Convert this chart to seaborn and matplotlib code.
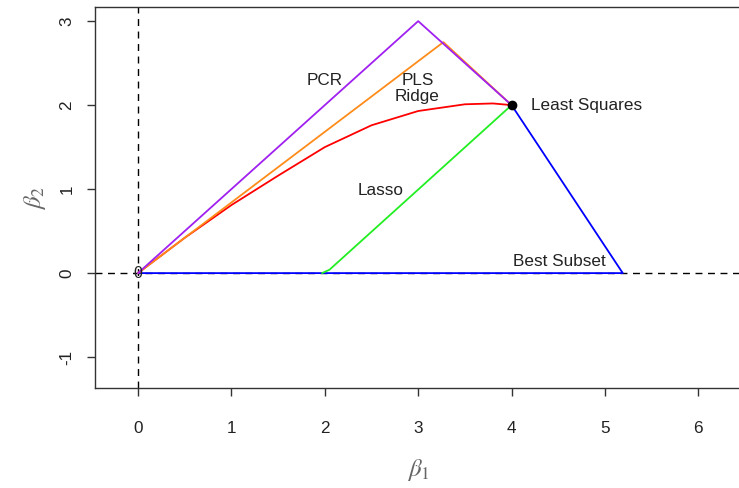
import numpy as np
import pandas as pd
import matplotlib
matplotlib.use('Agg')
import matplotlib.pyplot as plt
import seaborn as sns

sns.set_theme(style='white')
plt.rcParams['font.family'] = ['Liberation Sans', 'DejaVu Sans']
plt.rcParams['mathtext.fontset'] = 'stix'

# coefficient paths
pcr_x = [0, 3, 4]
pcr_y = [0, 3, 2]
pls_x = [0, 3.27, 4]
pls_y = [0, 2.75, 2]
ridge_x = [0, 0.5, 1.0, 1.5, 2.0, 2.5, 3.0, 3.5, 3.8, 4.0]
ridge_y = [0, 0.42, 0.81, 1.16, 1.50, 1.76, 1.93, 2.01, 2.02, 2.0]
lasso_x = [1.97, 2.05, 4]
lasso_y = [0, 0.04, 2]
subset_x = [0, 5.19, 4]
subset_y = [0, 0, 2]
ls_point = (4, 2)

paths = {'PCR': (pcr_x, pcr_y), 'PLS': (pls_x, pls_y), 'Ridge': (ridge_x, ridge_y),
         'Lasso': (lasso_x, lasso_y), 'Best Subset': (subset_x, subset_y)}
colors = {'PCR': '#a020f0', 'PLS': '#ff8c1a', 'Ridge': '#ff0000',
          'Lasso': '#22ee22', 'Best Subset': '#0000ff'}

rows = []
for name, (xs, ys) in paths.items():
    for i, (x, y) in enumerate(zip(xs, ys)):
        rows.append({'method': name, 'step': i, 'b1': x, 'b2': y})
df = pd.DataFrame(rows)

fig = plt.figure(figsize=(7.39, 4.88), dpi=100)
ax = fig.add_axes([0.1291, 0.2049, 0.8736, 0.7807])

ax.axhline(0, color='black', lw=1, ls=(0, (5, 4)), zorder=1)
ax.axvline(0, color='black', lw=1, ls=(0, (5, 4)), zorder=1)

# draw the blue one first so the others sit on top like in the picture
order = ['Best Subset', 'Lasso', 'Ridge', 'PLS', 'PCR']
for name in order:
    sub = df[df['method'] == name]
    sns.lineplot(data=sub, x='b1', y='b2', sort=False, estimator=None,
                 color=colors[name], lw=1.3, ax=ax, zorder=2)

ax.plot(*ls_point, 'o', color='black', ms=6, zorder=4)
ax.text(0, 0, '0', fontsize=11.5, ha='center', va='center', color='#222222', zorder=3)

labels = [('PCR', 2.0, 2.29), ('PLS', 3.0, 2.29), ('Ridge', 2.99, 2.10),
          ('Lasso', 2.60, 0.98), ('Least Squares', 4.80, 2.0), ('Best Subset', 4.51, 0.135)]
for txt, x, y in labels:
    ax.text(x, y, txt, fontsize=12.3, ha='center', va='center', color='#222222')

ax.set_xlim(-0.456, 6.456)
ax.set_ylim(-1.368, 3.168)
ax.set_xticks(range(0, 7))
ax.set_yticks(range(-1, 4))
ax.set_yticklabels([str(v) for v in range(-1, 4)], rotation=90, va='center')
ax.tick_params(axis='both', direction='out', length=6, width=1, color='#333333',
               labelsize=12.3, labelcolor='#222222', bottom=True, left=True)
ax.tick_params(axis='x', pad=18)
ax.tick_params(axis='y', pad=9)
for s in ax.spines.values():
    s.set_color('#333333')
    s.set_linewidth(1)

ax.set_xlabel(r'$\beta_1$', fontsize=18, color='#666666', va='center')
ax.set_ylabel(r'$\beta_2$', fontsize=18, color='#666666', va='center')
ax.xaxis.set_label_coords(0.5, -0.215)
ax.yaxis.set_label_coords(-0.0936, 0.5)

fig.savefig('out.png', dpi=100)
